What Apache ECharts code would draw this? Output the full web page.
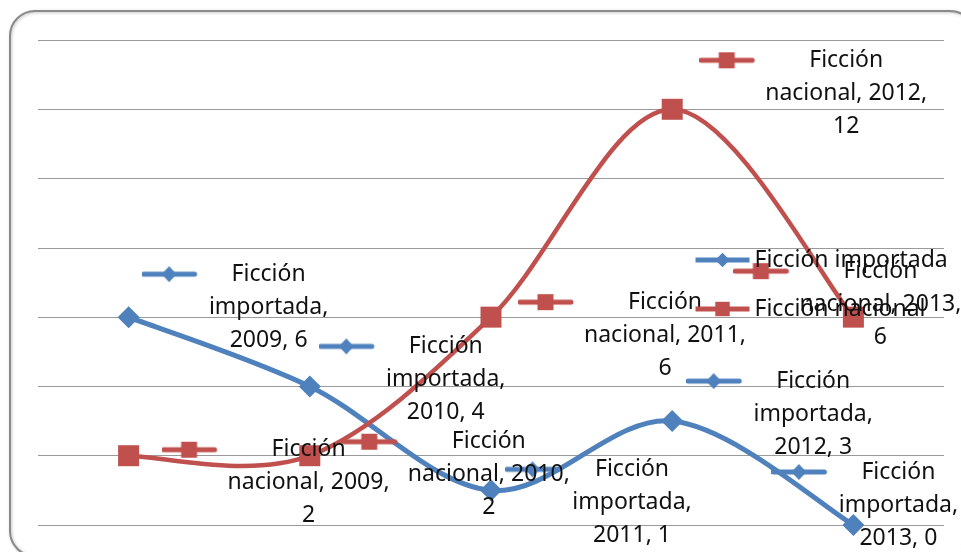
<!DOCTYPE html>
<html>
<head>
<meta charset="utf-8">
<script src="https://cdn.jsdelivr.net/npm/echarts@6/dist/echarts.min.js"></script>
<style>
  html, body { margin: 0; padding: 0; background: #fff; }
  #main { width: 961px; height: 552px; }
</style>
</head>
<body>
<div id="main"></div>
<script>
// datos
var years = ['2009', '2010', '2011', '2012', '2013'];
var importada = [6, 4, 1, 3, 0];
var nacional = [2, 2, 6, 12, 6];
var seriesNames = ['Ficción importada', 'Ficción nacional'];
var yTicks = [0, 2, 4, 6, 8, 10, 12, 14];

// desplazamiento de cada etiqueta respecto a su punto (solo maquetación)
var offImportada = [[140, -10], [136, -7], [141, 12], [141, -7], [45, -20]];
var offNacional = [[180, 27], [179, 19], [174, 18], [174, -16], [27, -13]];

var BLUE = '#4F81BD', RED = '#C0504D';

// clave de leyenda dibujada dentro de la etiqueta (línea + marcador)
function makeKey (color, shape, w) {
    var c = document.createElement('canvas');
    c.width = w; c.height = 18;
    var g = c.getContext('2d');
    g.strokeStyle = color; g.fillStyle = color;
    g.lineWidth = 5; g.lineCap = 'round';
    g.beginPath(); g.moveTo(2, 9); g.lineTo(53, 9); g.stroke();
    if (shape == 'diamond') {
        g.beginPath(); g.moveTo(27.5, 1); g.lineTo(35, 9); g.lineTo(27.5, 17); g.lineTo(20, 9); g.closePath(); g.fill();
    } else {
        g.fillRect(19.5, 1, 16, 16);
    }
    return c;
}

function textRich (key, w) {
    return {
        k: { width: w, height: 18, align: 'left', verticalAlign: 'middle', lineHeight: 33,
             backgroundColor: { image: key } },
        s: { width: w, height: 18, align: 'right', lineHeight: 33 },
        t: { fontSize: 23, fontFamily: 'Noto Sans', color: '#111', lineHeight: 33, align: 'center' }
    };
}

function buildData (vals, offs, lines) {
    return vals.map(function (v, i) {
        var l = lines(years[i], v);
        return {
            value: v,
            label: {
                offset: offs[i],
                formatter: '{k|}{t|Ficción}{s|}\n{t|' + l[0] + '}\n{t|' + l[1] + '}'
            }
        };
    });
}

// curva suavizada tipo Excel (bezier, tangente = (P[i+1]-P[i-1])/6)
function smoothLine (vals, color, width) {
    return {
        type: 'custom',
        z: 1,
        silent: true,
        data: vals.map(function (v, i) { return [i, v]; }),
        encode: { x: 0, y: 1 },
        renderItem: function (params, api) {
            var i = params.dataIndex, n = vals.length;
            if (i >= n - 1) return;
            var p = function (j) {
                j = Math.max(0, Math.min(n - 1, j));
                return api.coord([j, vals[j]]);
            };
            var p0 = p(i - 1), p1 = p(i), p2 = p(i + 1), p3 = p(i + 2);
            return {
                type: 'bezierCurve',
                shape: {
                    x1: p1[0], y1: p1[1], x2: p2[0], y2: p2[1],
                    cpx1: p1[0] + (p2[0] - p0[0]) / 6, cpy1: p1[1] + (p2[1] - p0[1]) / 6,
                    cpx2: p2[0] - (p3[0] - p1[0]) / 6, cpy2: p2[1] - (p3[1] - p1[1]) / 6
                },
                style: { stroke: color, lineWidth: width, fill: null, lineCap: 'round' }
            };
        }
    };
}

var myChart = echarts.init(document.getElementById('main'));

option = {
    backgroundColor: '#fff',
    animation: false,
    graphic: [{
        type: 'rect',
        z: -10,
        shape: { x: 10, y: 11, width: 965, height: 545, r: 25 },
        style: { fill: 'none', stroke: '#8a8a8a', lineWidth: 2,
                 shadowBlur: 3, shadowColor: 'rgba(0,0,0,0.25)', shadowOffsetX: 1, shadowOffsetY: 1 }
    }],
    grid: { left: 38, right: 17, top: 40, bottom: 27, containLabel: false },
    legend: {
        orient: 'vertical',
        left: 688,
        top: 242,
        itemWidth: 54,
        itemHeight: 18,
        itemGap: 23,
        textStyle: { fontSize: 23, fontFamily: 'Noto Sans', color: '#111', lineHeight: 26 },
        data: [
            { name: seriesNames[0], lineStyle: { width: 5, color: BLUE, opacity: 1 } },
            { name: seriesNames[1], lineStyle: { width: 5, color: RED, opacity: 1 } }
        ]
    },
    xAxis: {
        type: 'category',
        data: years,
        boundaryGap: true,
        axisLine: { show: false },
        axisTick: { show: false },
        axisLabel: { show: false }
    },
    yAxis: {
        type: 'value',
        min: yTicks[0],
        max: yTicks[yTicks.length - 1],
        interval: 2,
        axisLine: { show: false },
        axisTick: { show: false },
        axisLabel: { show: false },
        splitLine: { lineStyle: { color: '#9a9a9a', width: 1 } }
    },
    series: [
        smoothLine(importada, BLUE, 5),
        smoothLine(nacional, RED, 4.5),
        {
            name: seriesNames[0],
            type: 'line',
            z: 3,
            symbol: 'diamond',
            symbolSize: 22,
            color: BLUE,
            lineStyle: { width: 5, color: BLUE, opacity: 0 },
            itemStyle: { color: BLUE },
            label: { show: true, position: 'inside', align: 'center', verticalAlign: 'middle',
                     rich: textRich(makeKey(BLUE, 'diamond', 90), 90) },
            data: buildData(importada, offImportada, function (y, v) { return ['importada,', y + ', ' + v]; })
        },
        {
            name: seriesNames[1],
            type: 'line',
            z: 3,
            symbol: 'rect',
            symbolSize: 21,
            color: RED,
            lineStyle: { width: 4.5, color: RED, opacity: 0 },
            itemStyle: { color: RED },
            label: { show: true, position: 'inside', align: 'center', verticalAlign: 'middle',
                     rich: textRich(makeKey(RED, 'rect', 110), 110) },
            data: buildData(nacional, offNacional, function (y, v) { return ['nacional, ' + y + ',', '' + v]; })
        }
    ]
};

myChart.setOption(option);
</script>
</body>
</html>
